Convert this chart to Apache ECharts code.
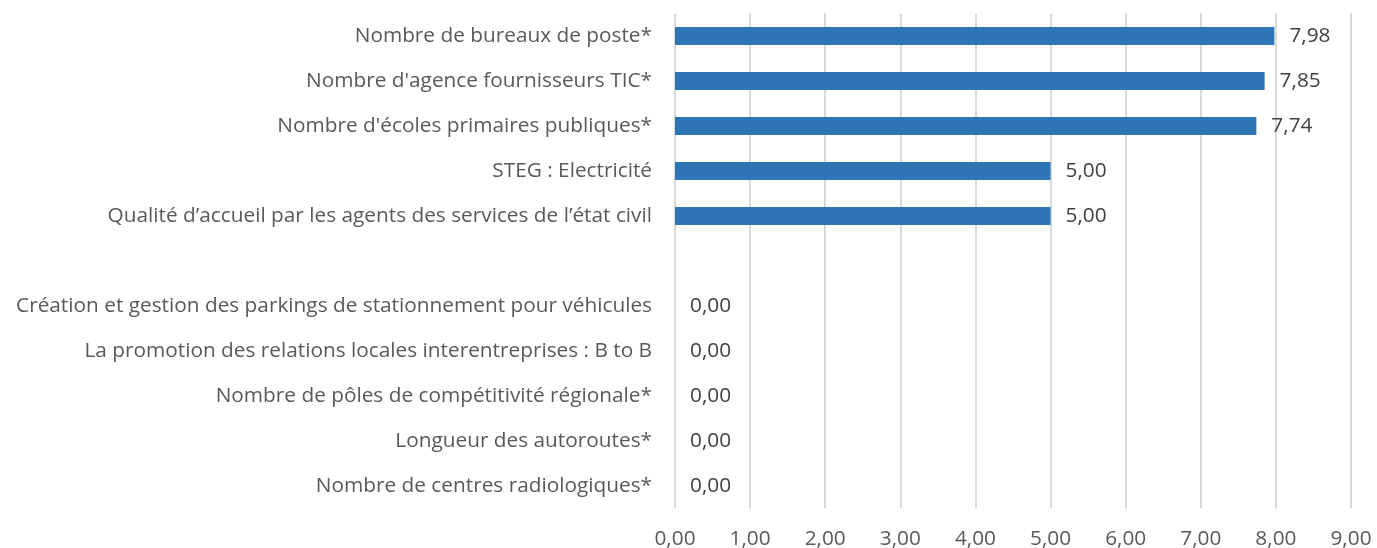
<!DOCTYPE html>
<html lang="fr">
<head>
    <meta charset="UTF-8">
    <title>Indicateurs</title>
    <script src="https://cdn.jsdelivr.net/npm/echarts@6/dist/echarts.min.js"></script>
</head>
<body style="margin:0;background:#fff;">
<div id="main" style="width:1377px;height:548px;"></div>

<script type="text/javascript">
    // catégories, de haut en bas (la ligne vide sépare les deux groupes)
    var categories = [
        'Nombre de bureaux de poste*',
        "Nombre d'agence fournisseurs TIC*",
        "Nombre d'écoles primaires publiques*",
        'STEG : Electricité',
        'Qualité d’accueil par les agents des services de l’état civil',
        '',
        'Création et gestion des parkings de stationnement pour véhicules',
        'La promotion des relations locales interentreprises : B to B',
        'Nombre de pôles de compétitivité régionale*',
        'Longueur des autoroutes*',
        'Nombre de centres radiologiques*'
    ];
    var values = [7.98, 7.85, 7.74, 5.00, 5.00, null, 0, 0, 0, 0, 0];
    var tickValues = [0, 1, 2, 3, 4, 5, 6, 7, 8, 9];

    function fmt(v) {
        return Number(v).toFixed(2).replace('.', ',');
    }

    var myChart = echarts.init(document.getElementById('main'));
    var font = '"Open Sans", sans-serif';

    var option = {
        backgroundColor: '#fff',
        animation: false,
        grid: {left: 675, right: 26, top: 13.5, bottom: 39.5, outerBoundsMode: 'none', containLabel: false},
        xAxis: {
            type: 'value',
            min: tickValues[0],
            max: tickValues[tickValues.length - 1],
            interval: 1,
            axisLine: {show: false},
            axisTick: {show: false},
            splitLine: {lineStyle: {color: '#d9d9d9', width: 2}},
            axisLabel: {
                formatter: fmt,
                color: '#595959',
                fontFamily: font,
                fontSize: 20.8,
                margin: 20
            }
        },
        yAxis: {
            type: 'category',
            inverse: true,
            data: categories,
            axisLine: {show: false},
            axisTick: {show: false},
            axisLabel: {
                color: '#595959',
                fontFamily: font,
                fontSize: 20.8,
                margin: 23,
                padding: [5, 0, 0, 0]
            }
        },
        series: [{
            type: 'bar',
            data: values,
            barWidth: 18,
            itemStyle: {color: '#2e75b6'},
            label: {
                show: true,
                position: 'right',
                distance: 15,
                color: '#404040',
                fontFamily: font,
                fontSize: 20.8,
                padding: [5, 0, 0, 0],
                formatter: function (p) {
                    return p.value == null ? '' : fmt(p.value);
                }
            }
        }]
    };
    myChart.setOption(option);
</script>
</body>
</html>
